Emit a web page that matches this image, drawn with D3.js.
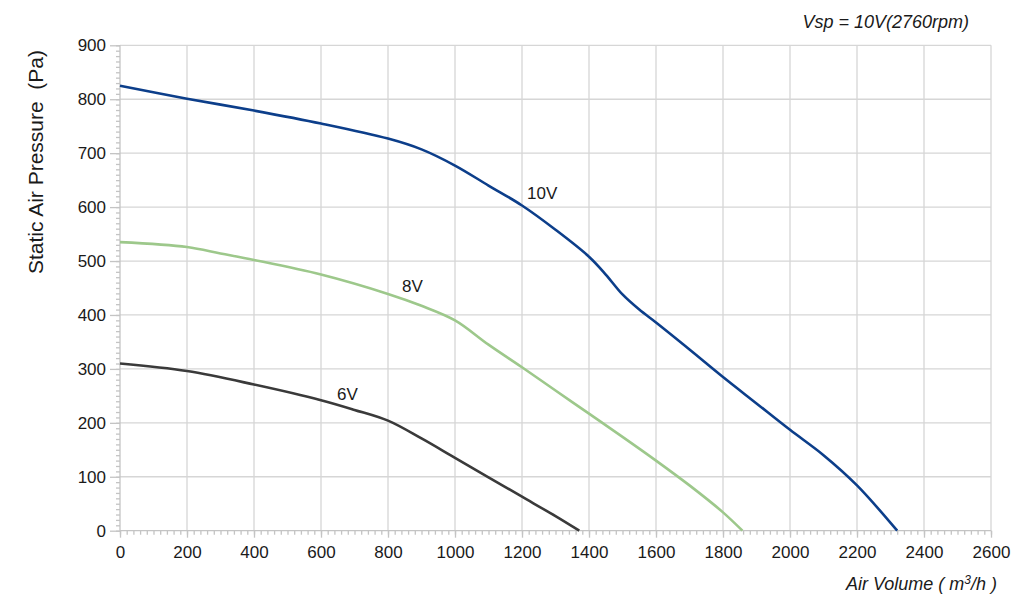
<!DOCTYPE html>
<html>
<head>
<meta charset="utf-8">
<script src="https://cdn.jsdelivr.net/npm/d3@7"></script>
<style>
  body { margin: 0; background: #fff; }
  svg text { font-family: "Liberation Sans", Arial, sans-serif; fill: #1a1a1a; }
</style>
</head>
<body>
<svg id="chart" width="1024" height="613"></svg>
<script>
// curve data: [air volume m3/h, static pressure Pa]
var curve10V = [[0,825],[200,801],[400,779],[600,755],[800,727],[900,707],[1000,677],[1100,640],[1200,603],[1300,558],[1400,508],[1450,475],[1500,438],[1550,410],[1600,386],[1700,336],[1800,285],[1900,236],[2000,187],[2100,140],[2200,84],[2320,0]];
var curve8V = [[0,535],[200,526],[300,514],[400,502],[600,475],[800,439],[900,417],[1000,390],[1100,345],[1200,303],[1300,260],[1400,217],[1500,174],[1600,130],[1700,84],[1800,34],[1858,0]];
var curve6V = [[0,310],[200,296],[400,271],[600,242],[700,224],[800,204],[900,171],[1000,135],[1100,99],[1200,63],[1300,27],[1371,0]];

var seriesNames = ["10V", "8V", "6V"];
var seriesData = [curve10V, curve8V, curve6V];
var seriesColors = ["#0c3e8a", "#9dc88b", "#3a3a3a"];
// label anchors in data units
var labelAt = [[1215, 615], [842, 442], [648, 242]];

var xTicks = d3.range(0, 2601, 200);
var yTicks = d3.range(0, 901, 100);

var svg = d3.select("#chart");
var x = d3.scaleLinear().domain([0, 2600]).range([120, 991]);
var y = d3.scaleLinear().domain([0, 900]).range([530.7, 45.3]);

var grid = "#d6d6d6";

// grid lines
svg.append("g").selectAll("line").data(xTicks.slice(1)).enter().append("line")
  .attr("x1", function(d){ return x(d); }).attr("x2", function(d){ return x(d); })
  .attr("y1", y(0)).attr("y2", y(900))
  .attr("stroke", grid).attr("stroke-width", 1.3);
svg.append("g").selectAll("line").data(yTicks.slice(1)).enter().append("line")
  .attr("x1", x(0)).attr("x2", x(2600))
  .attr("y1", function(d){ return y(d); }).attr("y2", function(d){ return y(d); })
  .attr("stroke", grid).attr("stroke-width", 1.3);

// minor ticks
var xAxisMinor = d3.axisBottom(x).tickValues(d3.range(0, 2601, 20)).tickSize(4).tickFormat("");
var yAxisMinor = d3.axisLeft(y).tickValues(d3.range(0, 901, 10)).tickSize(4).tickFormat("");
var xAxis = d3.axisBottom(x).tickValues(xTicks).tickSize(7).tickPadding(8).tickFormat(d3.format("d"));
var yAxis = d3.axisLeft(y).tickValues(yTicks).tickSize(10).tickPadding(4).tickFormat(d3.format("d"));

function styleAxis(g) {
  g.selectAll("path, line").attr("stroke", "#c4c4c4").attr("stroke-width", 1.3);
  g.selectAll("text").attr("font-size", 17).attr("fill", "#1a1a1a")
    .attr("font-family", "Liberation Sans, Arial, sans-serif");
}
svg.append("g").attr("transform", "translate(0," + y(0) + ")").call(xAxisMinor).call(styleAxis);
svg.append("g").attr("transform", "translate(" + x(0) + ",0)").call(yAxisMinor).call(styleAxis);
svg.append("g").attr("transform", "translate(0," + y(0) + ")").call(xAxis).call(styleAxis);
svg.append("g").attr("transform", "translate(" + x(0) + ",0)").call(yAxis).call(styleAxis);
svg.selectAll(".domain").remove();
svg.append("line").attr("x1", x(0)).attr("x2", x(2600)).attr("y1", y(0)).attr("y2", y(0))
  .attr("stroke", "#c4c4c4").attr("stroke-width", 1.3);
svg.append("line").attr("x1", x(0)).attr("x2", x(0)).attr("y1", y(0)).attr("y2", y(900))
  .attr("stroke", "#c4c4c4").attr("stroke-width", 1.3);

// curves
var line = d3.line()
  .x(function(d){ return x(d[0]); })
  .y(function(d){ return y(d[1]); })
  .curve(d3.curveCatmullRom.alpha(0.5));

seriesData.forEach(function(data, i) {
  svg.append("path").datum(data)
    .attr("fill", "none")
    .attr("stroke", seriesColors[i])
    .attr("stroke-width", 2.6)
    .attr("stroke-linejoin", "round")
    .attr("d", line);
  svg.append("text")
    .attr("x", x(labelAt[i][0])).attr("y", y(labelAt[i][1]))
    .attr("font-size", 17)
    .text(seriesNames[i]);
});

// titles
svg.append("text")
  .attr("transform", "translate(43,162) rotate(-90)")
  .attr("text-anchor", "middle")
  .attr("font-size", 21)
  .text("Static Air Pressure\u00a0 (Pa)");

var xt = svg.append("text")
  .attr("x", 997).attr("y", 590)
  .attr("text-anchor", "end")
  .attr("font-size", 18)
  .attr("font-style", "italic");
xt.append("tspan").text("Air Volume ( m");
xt.append("tspan").attr("font-size", 12).attr("dy", -6).text("3");
xt.append("tspan").attr("dy", 6).text("/h )");

svg.append("text")
  .attr("x", 969).attr("y", 28)
  .attr("text-anchor", "end")
  .attr("font-size", 18)
  .attr("font-style", "italic")
  .text("Vsp = 10V(2760rpm)");
</script>
</body>
</html>
